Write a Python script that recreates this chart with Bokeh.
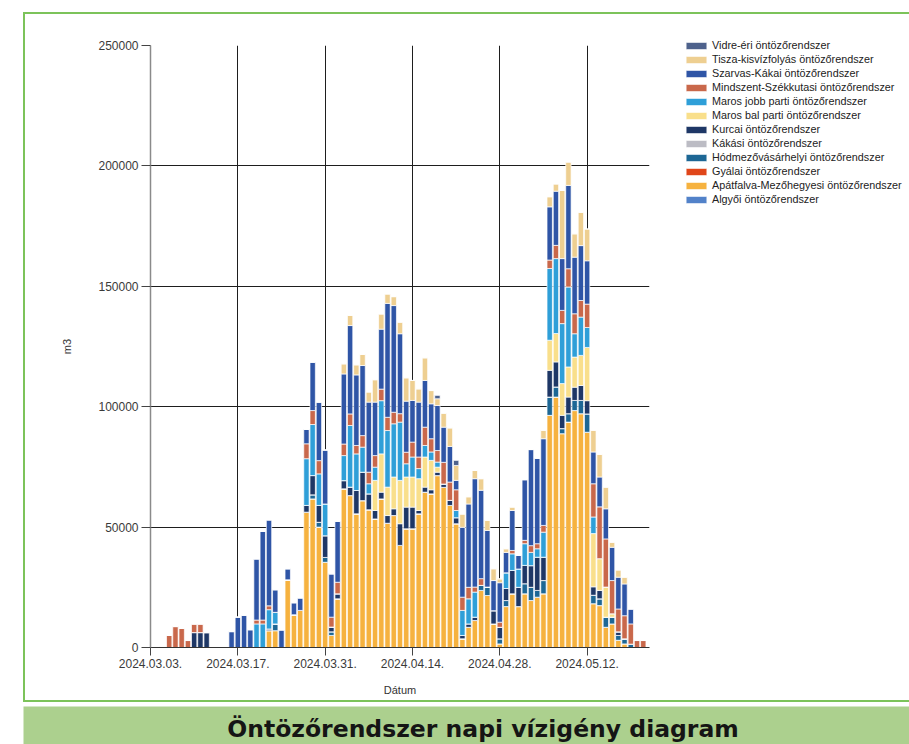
from bokeh.plotting import figure
from bokeh.models import (ColumnDataSource, Range1d, FixedTicker, Legend, LegendItem,
                          NumeralTickFormatter, Label)
from bokeh.embed import file_html
from bokeh.resources import INLINE

# ---------------- data ----------------
# day offset from 2024.03.03 (one bar per day)
days = list(range(80))
tick_days = [0, 14, 28, 42, 56, 70]
tick_labels = ["2024.03.03.", "2024.03.17.", "2024.03.31.", "2024.04.14.", "2024.04.28.", "2024.05.12."]
y_ticks = [0, 50000, 100000, 150000, 200000, 250000]

algyoi = [0, 0, 0, 0, 0, 0, 0, 0, 0, 0,
          0, 0, 0, 0, 0, 0, 0, 0, 0, 0,
          0, 0, 0, 0, 0, 0, 0, 0, 0, 0,
          0, 0, 0, 0, 0, 0, 0, 0, 0, 0,
          0, 0, 0, 0, 0, 0, 0, 0, 0, 0,
          0, 0, 0, 0, 0, 0, 0, 0, 0, 0,
          0, 0, 0, 0, 0, 0, 0, 0, 0, 0,
          0, 0, 0, 0, 0, 0, 0, 0, 0, 0]
apatfalva = [0, 0, 0, 0, 0, 0, 0, 0, 0, 0,
             0, 0, 0, 0, 0, 0, 0, 0, 0, 7000,
             7000, 0, 28100, 13600, 15400, 56200, 61700, 50000, 35400, 5000,
             20200, 65900, 63100, 55500, 61000, 57200, 53400, 61700, 51600, 54800,
             42400, 49300, 49300, 55500, 64500, 63800, 71400, 66500, 59000, 51400,
             3600, 8400, 11200, 23700, 21600, 9800, 1500, 17000, 22300, 17000,
             22300, 19500, 20900, 22300, 96400, 104000, 88800, 93600, 98400, 97100,
             89400, 18200, 17400, 8400, 9800, 3000, 1500, 0, 0, 0]
gyalai = [0, 0, 0, 0, 0, 0, 0, 0, 0, 0,
          0, 0, 0, 0, 0, 0, 0, 0, 0, 0,
          0, 0, 0, 0, 0, 0, 0, 0, 0, 0,
          0, 0, 0, 0, 0, 0, 0, 0, 0, 0,
          0, 0, 0, 0, 0, 0, 0, 0, 0, 0,
          0, 0, 0, 0, 0, 0, 0, 0, 0, 0,
          0, 0, 0, 0, 0, 0, 0, 0, 0, 0,
          0, 0, 0, 0, 0, 0, 0, 0, 0, 0]
hodmezo = [0, 0, 0, 0, 0, 0, 0, 0, 0, 0,
           0, 0, 0, 0, 0, 0, 0, 0, 0, 0,
           2800, 0, 0, 0, 0, 0, 1700, 2000, 2000, 1500,
           0, 0, 0, 0, 0, 0, 0, 0, 0, 0,
           0, 0, 0, 0, 0, 0, 0, 0, 0, 0,
           0, 0, 0, 2100, 3500, 0, 2100, 2500, 0, 0,
           4200, 5500, 2800, 5500, 7600, 4200, 2100, 3500, 4200, 5500,
           7600, 3500, 2800, 4200, 2800, 2000, 2100, 1400, 0, 0]
kakasi = [0, 0, 0, 0, 0, 0, 0, 0, 0, 0,
          0, 0, 0, 0, 0, 0, 0, 0, 0, 0,
          0, 0, 0, 0, 0, 0, 0, 0, 0, 0,
          0, 0, 0, 0, 0, 0, 0, 0, 0, 0,
          0, 0, 0, 0, 0, 0, 0, 0, 0, 0,
          0, 0, 0, 0, 0, 0, 0, 0, 0, 0,
          0, 0, 0, 0, 0, 0, 0, 0, 0, 0,
          0, 0, 0, 0, 0, 0, 0, 0, 0, 0]
kurcai = [0, 0, 0, 0, 0, 0, 0, 6200, 6200, 6200,
          0, 0, 0, 0, 0, 0, 0, 0, 0, 700,
          0, 0, 0, 0, 0, 2800, 8000, 7000, 9000, 2000,
          2100, 3400, 3500, 9700, 11800, 6600, 3500, 2800, 3200, 2800,
          9000, 9000, 9000, 1400, 2100, 1700, 1400, 1400, 2100, 2500,
          1400, 1400, 1400, 0, 0, 5500, 4800, 5000, 9700, 8000,
          7600, 9000, 13800, 9700, 11100, 10400, 5500, 6900, 5500, 6200,
          5500, 3500, 3500, 0, 0, 1500, 0, 0, 0, 0]
maros_bal = [0, 0, 0, 0, 0, 0, 0, 0, 0, 0,
             0, 0, 0, 0, 0, 0, 0, 0, 0, 0,
             0, 0, 0, 0, 0, 0, 0, 0, 0, 0,
             0, 0, 0, 0, 0, 0, 12500, 15900, 11800, 13200,
             18000, 12500, 12500, 13200, 12500, 12200, 2100, 0, 0, 0,
             0, 0, 0, 0, 0, 0, 0, 0, 0, 0,
             0, 0, 0, 0, 12500, 11800, 13200, 12500, 12500, 12500,
             22100, 22100, 13200, 12500, 1400, 0, 0, 0, 0, 0]
maros_jobb = [0, 0, 0, 0, 0, 0, 0, 0, 0, 0,
              0, 0, 0, 0, 0, 0, 0, 9800, 9800, 8000,
              4800, 0, 0, 0, 0, 19400, 21200, 13100, 13200, 0,
              0, 10400, 25600, 15200, 10400, 4200, 5500, 22100, 23500, 22100,
              24200, 5500, 8300, 4200, 4800, 3500, 2100, 0, 0, 3000,
              10400, 10400, 10400, 0, 0, 0, 0, 6500, 6900, 7600,
              9000, 5500, 3500, 10400, 29800, 31100, 24900, 33200, 9700, 15900,
              8300, 6900, 0, 0, 0, 0, 0, 0, 0, 0]
mindszent = [0, 540, 540, 5000, 8700, 7900, 2900, 3600, 3600, 0,
             0, 0, 0, 0, 0, 0, 0, 1600, 1600, 1600,
             0, 0, 0, 0, 0, 6200, 5800, 5500, 0, 4100,
             4800, 4800, 4800, 3500, 4800, 4800, 4800, 4800, 5500, 4800,
             3500, 4800, 6200, 4800, 7600, 5500, 4800, 9000, 7600, 8600,
             5500, 4800, 2100, 2800, 0, 0, 2100, 0, 1400, 0,
             1400, 2800, 2100, 2800, 3500, 5500, 5500, 7600, 8300, 6900,
             9700, 13800, 21500, 20000, 13800, 9500, 9600, 8400, 2900, 2900]
szarvas = [0, 0, 0, 0, 0, 0, 0, 0, 0, 0,
           0, 0, 0, 6600, 12600, 13400, 7400, 25400, 36800, 35700,
           9400, 7300, 4600, 5000, 5200, 6000, 20100, 24300, 22400, 18000,
           25300, 29100, 36700, 29300, 29100, 29100, 22200, 24900, 47300, 44300,
           33200, 21200, 17300, 22800, 19400, 14500, 18700, 14600, 14800, 3900,
           29000, 34600, 45000, 36700, 23500, 12500, 16400, 8500, 16600, 5600,
           25200, 39900, 35500, 36000, 22100, 22500, 21500, 34600, 23500, 22800,
           18000, 13200, 12400, 12500, 13800, 13200, 13200, 6200, 0, 0]
tisza = [0, 0, 0, 0, 0, 0, 0, 0, 0, 0,
         0, 0, 0, 0, 0, 0, 0, 0, 0, 0,
         0, 0, 0, 0, 0, 0, 0, 0, 0, 0,
         0, 4200, 4200, 4200, 4600, 4200, 9300, 6300, 3900, 3700,
         4800, 9700, 8300, 5500, 9400, 5500, 2800, 5800, 7700, 6200,
         5500, 3000, 3400, 4800, 4200, 4900, 1600, 1500, 1400, 0,
         0, 0, 0, 3500, 4200, 3000, 28300, 9700, 9700, 13800,
         13200, 9000, 9400, 9000, 2100, 3000, 2800, 0, 0, 0]
vidre = [0, 0, 0, 0, 0, 0, 0, 0, 0, 0,
         0, 0, 0, 0, 0, 0, 0, 0, 0, 0,
         0, 0, 0, 0, 0, 0, 0, 0, 0, 0,
         0, 0, 0, 0, 0, 0, 0, 0, 0, 0,
         0, 0, 0, 0, 0, 0, 1400, 0, 0, 2100,
         0, 0, 0, 0, 0, 0, 0, 0, 0, 0,
         0, 0, 0, 0, 0, 0, 0, 0, 0, 0,
         0, 0, 0, 0, 0, 0, 0, 0, 0, 0]

# stack order: bottom -> top
series_keys = ["algyoi", "apatfalva", "gyalai", "hodmezo", "kakasi", "kurcai",
               "maros_bal", "maros_jobb", "mindszent", "szarvas", "tisza", "vidre"]
series_names = ["Algyői öntözőrendszer", "Apátfalva-Mezőhegyesi öntözőrendszer",
                "Gyálai öntözőrendszer", "Hódmezővásárhelyi öntözőrendszer",
                "Kákási öntözőrendszer", "Kurcai öntözőrendszer",
                "Maros bal parti öntözőrendszer", "Maros jobb parti öntözőrendszer",
                "Mindszent-Székkutasi öntözőrendszer", "Szarvas-Kákai öntözőrendszer",
                "Tisza-kisvízfolyás öntözőrendszer", "Vidre-éri öntözőrendszer"]
series_colors = ["#5282c9", "#f6b23f", "#e0461a", "#1d6795", "#bcbcc4", "#1e3766",
                 "#f9df8b", "#2f9fd8", "#c9684b", "#2f55a6", "#eecf91", "#4e628c"]
series_values = [algyoi, apatfalva, gyalai, hodmezo, kakasi, kurcai,
                 maros_bal, maros_jobb, mindszent, szarvas, tisza, vidre]

title_text = "Öntözőrendszer napi vízigény diagram"

# ---------------- chart ----------------
data = {"day": days}
for k, v in zip(series_keys, series_values):
    data[k] = v
source = ColumnDataSource(data)

p = figure(width=886, height=690, x_range=Range1d(0, 80), y_range=Range1d(0, 250000),
           toolbar_location=None, output_backend="svg",
           min_border_left=127, min_border_right=260, min_border_top=33, min_border_bottom=55)
p.border_fill_color = None
p.background_fill_color = "white"
p.outline_line_color = None
p.styles = {"box-shadow": "inset 2px 2px 0 0 #7cc35a, inset 0 -2px 0 0 #7cc35a"}

renderers = p.vbar_stack(series_keys, x="day", width=0.86, color=series_colors,
                         line_color="white", line_width=0.7, source=source)

# axes
p.xaxis.ticker = FixedTicker(ticks=tick_days)
p.xaxis.major_label_overrides = {d: s for d, s in zip(tick_days, tick_labels)}
p.yaxis.ticker = FixedTicker(ticks=y_ticks)
p.yaxis.formatter = NumeralTickFormatter(format="0")
p.xaxis.axis_label = "Dátum"
p.yaxis.axis_label = "m3"
for ax in (p.xaxis, p.yaxis):
    ax.major_label_text_font = "Liberation Sans"
    ax.major_label_text_font_size = "12px"
    ax.major_label_text_color = "#3a3a3a"
    ax.axis_label_text_font = "Liberation Sans"
    ax.axis_label_text_font_size = "11px"
    ax.axis_label_text_font_style = "normal"
    ax.axis_label_text_color = "#333333"
    ax.major_tick_in = 0
    ax.minor_tick_line_color = None
    ax.major_tick_line_color = "#444444"
p.xaxis.major_tick_out = 8
p.xaxis.major_label_standoff = 3
p.xaxis.axis_label_standoff = 13
p.xaxis.axis_line_color = "#333333"
p.yaxis.major_tick_out = 9
p.yaxis.major_label_standoff = 3
p.yaxis.axis_label_standoff = 22
p.yaxis.axis_line_color = "#8a8a8a"
p.yaxis.axis_line_width = 1.5

p.grid.grid_line_color = "#1e1e1e"
p.grid.grid_line_width = 1
p.margin = (12, 0, 0, 23)

# ---------------- legend (own small canvas, laid over the chart's right side) ----------------
lg = figure(width=222, height=170, x_range=Range1d(0, 1), y_range=Range1d(0, 1),
            x_axis_type=None, y_axis_type=None, toolbar_location=None,
            output_backend="svg", min_border=0)
lg.background_fill_color = None
lg.border_fill_color = None
lg.outline_line_color = None
lg.grid.visible = False
legend_renderers = []
for c in series_colors:
    # swatch-only renderer: one zero-height bar placed outside the visible range
    legend_renderers.append(lg.vbar(x=[-5], top=[0], bottom=[0], width=0.1, color=c,
                                    line_color="white", line_width=0.7))
items = [LegendItem(label=n, renderers=[r]) for n, r in zip(series_names, legend_renderers)]
items.reverse()
legend = Legend(items=items, location="top_left", padding=0, margin=0, spacing=2,
                glyph_width=26, glyph_height=9, label_height=12, label_standoff=3,
                label_text_font="Liberation Sans", label_text_font_size="10.8px",
                label_text_color="#222222", border_line_color=None,
                background_fill_alpha=0)
lg.add_layout(legend)
lg.styles = {"position": "absolute", "left": "683px", "top": "39px"}

# ---------------- title bar ----------------
t = figure(width=886, height=38, x_range=Range1d(0, 886), y_range=Range1d(0, 38),
           x_axis_type=None, y_axis_type=None, toolbar_location=None,
           output_backend="svg", min_border=0)
t.background_fill_color = "#acd08e"
t.border_fill_color = "#acd08e"
t.outline_line_color = None
t.add_layout(Label(x=459.5, y=16, text=title_text, text_align="center",
                   text_baseline="middle", text_font="DejaVu Sans",
                   text_font_style="bold", text_font_size="23.5px", text_color="#151515"))
t.margin = (4, 0, 0, 23)

open("out.html", "w").write(file_html([p, t, lg], INLINE))
